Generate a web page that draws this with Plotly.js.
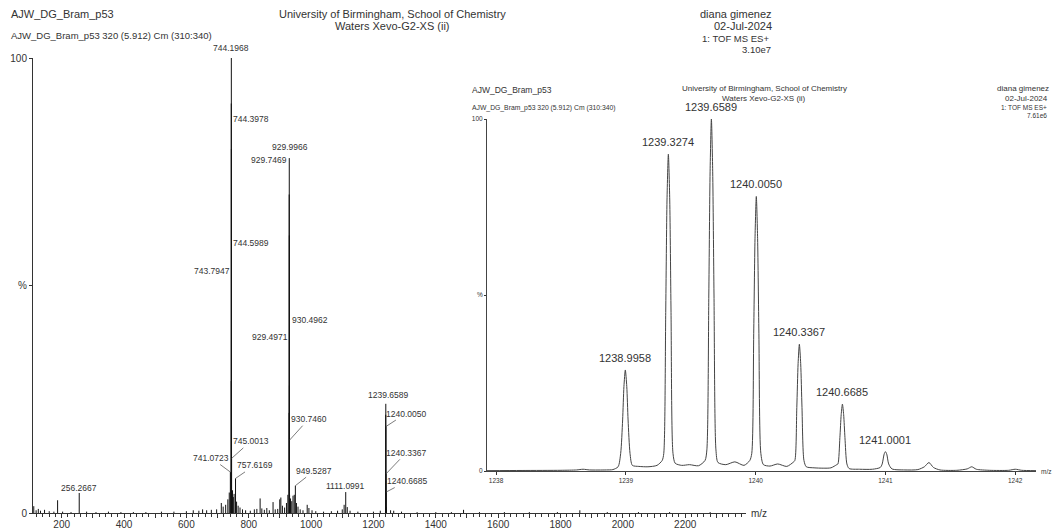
<!DOCTYPE html>
<html>
<head>
<meta charset="utf-8">
<script src="https://cdn.plot.ly/plotly-3.0.1.min.js"></script>
<style>html,body{margin:0;padding:0;background:#fff;}#chart{width:1052px;height:530px;}</style>
</head>
<body>
<div id="chart"></div>
<script>
// ---------- main spectrum (stick centroids, % of base peak) ----------
const mainMz = [110.5,118,125,132,145,160,175,186.9,203,230,256.2667,280,310,350,390,430,470,520,560,600,622,640,652,665,680,697,712,718,726,733,737.5,741.0723,743.7947,743.9958,744.1968,744.3978,744.5989,744.7999,745.0013,748,750.5,753,757.6169,761,766,772,780,790,805,818,826,836.5,842,850,858,866,878,885,893,899.5,903,908,915,921,925.5,929.4971,929.7469,929.9966,930.2464,930.4962,930.7460,930.9958,934,938,942,946,949.5287,953,958,965,974,987.5,993,1003,1015,1040,1065,1085,1100,1106,1111.0991,1116,1125,1150,1200,1222,1238.9958,1239.3274,1239.6589,1240.0050,1240.3367,1240.6685,1241.0001,1255,1265,1290,1340,1400,1450,1489,1540,1620,1700,1790,1862,1950,2050,2150,2280];
const mainInt = [1.5,0.6,0.9,0.5,0.7,0.4,0.3,2.8,0.3,0.2,4.4,0.3,0.2,0.3,0.2,0.2,0.2,0.3,0.3,0.4,0.6,0.5,0.8,0.6,0.7,0.8,2.2,1.4,1.8,3.0,4.5,9,29,90,100,80,38,19,12,5,3.5,4.2,7.6,2.5,1.6,1.2,0.8,0.6,0.5,0.8,0.9,3.2,1.0,0.7,1.1,0.6,2.4,0.8,0.9,3.0,3.4,1.6,1.2,2.2,4.0,22,70,78,61,28,16,4,3.2,2.6,3.8,4.0,6,2.2,1.4,0.8,0.6,1.8,1.1,0.6,0.4,0.3,0.4,0.5,0.8,1.8,4.6,1.3,0.5,0.3,0.3,0.5,7,21.6,24,19,8.6,4.6,1.3,0.6,0.5,0.3,0.2,0.2,0.2,0.7,0.2,0.2,0.2,0.2,0.6,0.2,0.2,0.2,0.2];
const mainLabels = ['744.1968','744.3978','744.5989','743.7947','745.0013','741.0723','757.6169','929.9966','929.7469','930.4962','929.4971','930.7460','949.5287','1111.0991','256.2667','1239.6589','1240.0050','1240.3367','1240.6685'];
const mainTickVals = [200,300,400,500,600,700,800,900,1000,1100,1200,1300,1400,1500,1600,1700,1800,1900,2000,2100,2200,2300];
const mainTickText = ['200','','400','','600','','800','','1000','','1200','','1400','','1600','','1800','','2000','','2200',''];

// ---------- inset: profile of the 1239.66 cluster ----------
const insetMz = [1237.93,1238.2,1238.5,1238.62,1238.67,1238.72,1238.85,1238.90,1238.94,1238.960,1238.975,1238.985,1238.9958,1239.007,1239.017,1239.032,1239.05,1239.10,1239.17,1239.24,1239.28,1239.292,1239.307,1239.317,1239.3274,1239.338,1239.348,1239.363,1239.38,1239.43,1239.49,1239.56,1239.61,1239.624,1239.639,1239.649,1239.6589,1239.669,1239.679,1239.694,1239.71,1239.77,1239.84,1239.91,1239.955,1239.970,1239.985,1239.995,1240.0050,1240.015,1240.025,1240.040,1240.06,1240.11,1240.17,1240.24,1240.29,1240.302,1240.317,1240.327,1240.3367,1240.347,1240.357,1240.372,1240.39,1240.45,1240.52,1240.58,1240.625,1240.634,1240.649,1240.659,1240.6685,1240.678,1240.688,1240.703,1240.72,1240.80,1240.90,1240.96,1240.975,1240.99,1241.0001,1241.01,1241.025,1241.05,1241.15,1241.25,1241.30,1241.335,1241.37,1241.42,1241.55,1241.63,1241.665,1241.70,1241.80,1241.95,1242.0,1242.05,1242.16];
const insetInt = [0.1,0.15,0.2,0.3,0.5,0.3,0.3,0.4,1.2,5,14.5,24,28.7,24,14.5,5,1.6,1.3,1.2,1.6,3,5,45,77,90,77,45,5,2.2,1.6,1.8,1.5,3,6,50,85,100,85,50,6,2.4,1.8,2.6,1.6,3,5,39,66,78,66,39,5,1.8,1.4,2.0,1.3,2.5,3,18,30.5,36,30.5,18,3,1.2,0.9,0.8,0.9,1.8,2,9.5,16,19,16,9.5,2,0.7,0.5,0.5,1.0,2.0,4.8,5.5,4.8,2.0,0.6,0.3,0.4,1.2,2.4,1.0,0.3,0.2,0.6,1.2,0.5,0.2,0.2,0.5,0.2,0.1];
const insetPeakMz = [1238.9958,1239.3274,1239.6589,1240.0050,1240.3367,1240.6685,1241.0001];
const insetPeakInt = [28.7,90,100,78,36,19,5.5];
const insetPeakLabels = ['1238.9958','1239.3274','1239.6589','1240.0050','1240.3367','1240.6685','1241.0001'];
const insetTickVals = [1238,1239,1240,1241,1242];
const insetTickText = ['1238','1239','1240','1241','1242'];

// ---------- build traces ----------
const sx = [], sy = [];
mainMz.forEach((m, i) => { sx.push(m, m, null); sy.push(0, mainInt[i], null); });
const sticks = {x: sx, y: sy, type: 'scatter', mode: 'lines', xaxis: 'x', yaxis: 'y',
  line: {color: '#111', width: 1}, hoverinfo: 'skip'};
const profile = {x: insetMz, y: insetInt, type: 'scatter', mode: 'lines', xaxis: 'x2', yaxis: 'y2',
  line: {color: '#444', width: 1, shape: 'spline', smoothing: 0.7}, hoverinfo: 'skip'};

const W = 1052, H = 530;
const FF = 'Liberation Sans, Arial, sans-serif';
function P(text, px, py, size, xanchor) {
  return {text: text, xref: 'paper', yref: 'paper', x: px / W, y: 1 - py / H, xanchor: xanchor,
    yanchor: 'middle', showarrow: false, font: {size: size, color: '#333', family: FF}};
}
const ann = [];
// main header
ann.push(P('AJW_DG_Bram_p53', 9, 14, 11, 'left'));
ann.push(P('University of Birmingham, School of Chemistry', 392, 14, 11, 'center'));
ann.push(P('Waters Xevo-G2-XS (ii)', 392, 26, 11, 'center'));
ann.push(P('diana gimenez', 774, 14, 11, 'right'));
ann.push(P('02-Jul-2024', 774, 26, 11, 'right'));
ann.push(P('1: TOF MS ES+', 771, 39, 9.5, 'right'));
ann.push(P('3.10e7', 773, 50, 9.5, 'right'));
ann.push(P('AJW_DG_Bram_p53 320 (5.912) Cm (310:340)', 9, 36, 9.5, 'left'));
ann.push(P('m/z', 749, 513, 10, 'left'));
// inset header
ann.push(P('AJW_DG_Bram_p53', 470, 90, 8.5, 'left'));
ann.push(P('AJW_DG_Bram_p53 320 (5.912) Cm (310:340)', 470, 108, 6.8, 'left'));
ann.push(P('University of Birmingham, School of Chemistry', 764, 89, 8, 'center'));
ann.push(P('Waters Xevo-G2-XS (ii)', 764, 99, 8, 'center'));
ann.push(P('diana gimenez', 1051, 89, 8, 'right'));
ann.push(P('02-Jul-2024', 1050, 99, 8, 'right'));
ann.push(P('1: TOF MS ES+', 1049, 108, 6.5, 'right'));
ann.push(P('7.61e6', 1049, 116, 6.5, 'right'));
ann.push(P('m/z', 1039, 471, 6.5, 'left'));

// main peak labels: placement (pixel offsets of text centre from peak top)
const place = {
  '744.1968': {dx: 0, dy: 10},
  '744.3978': {dx: 20, dy: 30},
  '744.5989': {dx: 20, dy: 97},
  '743.7947': {dx: -19, dy: 110},
  '929.9966': {dx: 1, dy: 11},
  '929.7469': {dx: -20, dy: 35},
  '930.4962': {dx: 21, dy: 66},
  '929.4971': {dx: -19, dy: 76},
  '1111.0991': {dx: 0, dy: 6},
  '256.2667': {dx: 0, dy: 5},
  '1239.6589': {dx: 2, dy: 9},
  '745.0013': {ax: 19, ay: -17},
  '741.0723': {ax: -19, ay: -14},
  '757.6169': {ax: 19, ay: -13},
  '930.7460': {ax: 19, ay: -21},
  '949.5287': {ax: 19, ay: -15},
  '1240.0050': {ax: 20, ay: -13},
  '1240.3367': {ax: 20, ay: -21},
  '1240.6685': {ax: 21, ay: -11}
};
mainLabels.forEach(lbl => {
  const m = parseFloat(lbl);
  const i = mainMz.findIndex(v => Math.abs(v - m) < 1e-6);
  const h = mainInt[i];
  const p = place[lbl];
  const a = {text: lbl, x: m, y: h, xref: 'x', yref: 'y', font: {size: 8.5, color: '#333', family: FF}};
  if (p.ax !== undefined) {
    Object.assign(a, {showarrow: true, ax: p.ax, ay: p.ay, arrowhead: 0, arrowwidth: 0.7,
      arrowcolor: '#444', standoff: 0, startstandoff: 0});
  } else {
    Object.assign(a, {showarrow: false, xshift: p.dx, yshift: p.dy, xanchor: 'center', yanchor: 'middle'});
  }
  ann.push(a);
});
// inset peak labels
insetPeakMz.forEach((m, i) => {
  ann.push({text: insetPeakLabels[i], x: m, y: insetPeakInt[i], xref: 'x2', yref: 'y2', showarrow: false,
    xanchor: 'center', yanchor: 'bottom', yshift: 4, font: {size: 11, color: '#333', family: FF}});
});

const axBase = {showgrid: false, zeroline: false, showline: true, linecolor: '#333', linewidth: 1,
  ticks: 'outside', tickcolor: '#333', tickwidth: 1, fixedrange: true};
const layout = {
  width: W, height: H, margin: {l: 0, r: 0, t: 0, b: 0},
  paper_bgcolor: '#fff', plot_bgcolor: 'rgba(0,0,0,0)', showlegend: false,
  font: {family: FF, color: '#333'},
  xaxis: Object.assign({}, axBase, {domain: [33 / W, 746 / W], range: [108, 2395], anchor: 'y',
    tickmode: 'array', tickvals: mainTickVals, ticktext: mainTickText, ticklen: 4,
    ticklabelstandoff: -2,
    tickfont: {size: 10, color: '#333'},
    minor: {tickmode: 'linear', tick0: 0, dtick: 20, ticks: 'outside', ticklen: 2.5, tickcolor: '#333', showgrid: false}}),
  yaxis: Object.assign({}, axBase, {domain: [1 - 513 / H, 1 - 58 / H], range: [0, 100], anchor: 'x',
    tickmode: 'array', tickvals: [0, 50, 100], ticktext: ['0', '%', '100'], ticklen: 3,
    tickfont: {size: 10, color: '#333'}}),
  xaxis2: Object.assign({}, axBase, {domain: [487 / W, 1036 / W], range: [1237.93, 1242.16], anchor: 'y2',
    tickmode: 'array', tickvals: insetTickVals, ticktext: insetTickText, ticklen: 3,
    tickfont: {size: 6.5, color: '#333'}, linecolor: '#444'}),
  yaxis2: Object.assign({}, axBase, {domain: [1 - 471 / H, 1 - 119 / H], range: [0, 100], anchor: 'x2',
    tickmode: 'array', tickvals: [0, 50, 100], ticktext: ['0', '%', '100'], ticklen: 2,
    tickfont: {size: 6.5, color: '#333'}, linecolor: '#444'}),
  annotations: ann
};
Plotly.newPlot('chart', [sticks, profile], layout, {staticPlot: true, displayModeBar: false});
</script>
</body>
</html>
